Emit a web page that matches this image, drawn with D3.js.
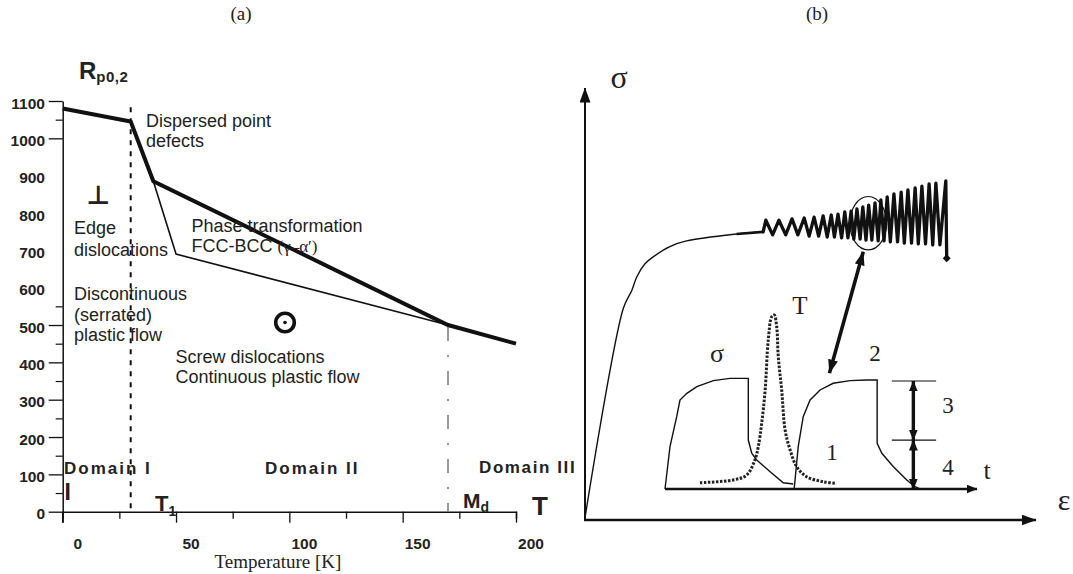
<!DOCTYPE html>
<html><head><meta charset="utf-8">
<script src="https://cdn.jsdelivr.net/npm/d3@7"></script>
<style>body{margin:0;background:#fff}</style>
</head><body>
<svg id="c" width="1073" height="574" xmlns="http://www.w3.org/2000/svg"></svg>
<script>
// ---------- Panel (a) data ----------
const tempTicks = [0, 25, 50, 75, 100, 125, 150, 175, 200];
const tempLabels = [0, 50, 100, 150, 200];
const rpTicksMajor = [0, 100, 200, 300, 400, 500, 1000, 1100];
const rpTicksMinor = [50, 150, 250, 350, 450, 550, 1050];
const rpLabels = [0, 100, 200, 300, 400, 500, 600, 700, 800, 900, 1000, 1100];
const thickT = [0, 30, 40, 170, 200];
const thickR = [1080, 1045, 885, 500, 450];
const thinT = [40, 50, 170];
const thinR = [885, 690, 500];
const T1 = 30, Md = 170;

// ---------- Panel (b) data (arbitrary units) ----------
const mainEps = [0, 8.5, 10.4, 11.5, 13.3, 15.1, 18.8, 22.5, 33.6, 39.5];
const mainSig = [0.5, 49, 53.2, 56.3, 59.3, 60.9, 63.3, 64.6, 66.2, 66.7];
const peakEps = [40.1, 43.0, 45.9, 48.6, 50.8, 52.8, 54.6, 56.1, 57.6, 59.0, 60.3, 61.6, 62.9, 64.3, 65.6, 67.0, 68.5, 70.1, 71.6, 73.2, 74.7, 76.3, 77.8, 80.0];
const peakSig = [69.4, 69.4, 69.7, 69.9, 70.1, 70.4, 70.6, 70.8, 71.3, 71.5, 72.0, 72.5, 72.9, 73.4, 74.1, 74.8, 75.5, 75.9, 76.4, 76.9, 77.3, 77.8, 78.0, 78.5];
const troughEps = [41.6, 44.5, 47.2, 49.7, 51.8, 53.7, 55.3, 56.9, 58.3, 59.6, 61.0, 62.3, 63.6, 65.0, 66.3, 67.7, 69.3, 70.8, 72.4, 73.9, 75.5, 77.1, 78.7];
const troughSig = [66.0, 66.0, 66.0, 65.7, 65.7, 65.5, 65.5, 65.3, 65.3, 65.0, 65.0, 64.8, 64.8, 64.6, 64.6, 64.4, 64.4, 64.1, 64.1, 63.9, 63.9, 63.7, 63.7];
const endEps = 80.2, endSig = 60.6;
const ringEps = 62.8, ringSig = 68.7, ringREps = 4.06, ringRSig = 6.18;
const bigArrowEps = [61.7, 54.2], bigArrowSig = [62.1, 34.0];

// inset (t, value)
const pulse1T = [0, 1.6, 3.75, 4.8, 7.0, 10.2, 15.5, 20.8, 26.7, 26.7, 27.8, 29.4, 33.7, 37.9, 41.1];
const pulse1V = [0, 38.5, 65.7, 80.9, 87.0, 93.0, 98.5, 100.6, 100.6, 44.5, 32.5, 26.4, 15.7, 5.7, 4.5];
const pulse2T = [41.4, 42.7, 44.3, 46.5, 49.7, 53.9, 59.3, 64.6, 68.0, 68.0, 69.5, 73.2, 77.5, 80.1, 81.7];
const pulse2V = [0, 38.5, 65.7, 80.9, 90.0, 96.1, 98.5, 99.1, 99.1, 41.5, 32.5, 20.3, 8.2, 2.1, 0];
const tempCurveT = [11.2, 21.8, 26.2, 28.8, 29.9, 31.0, 32.1, 33.1, 34.2, 35.0, 35.8, 36.3, 37.4, 38.5, 40.1, 42.2, 45.4, 50.7, 55.0];
const tempCurveV = [5.7, 8.2, 12.7, 26.4, 38.5, 60, 90, 135.5, 156.6, 158.2, 147.5, 120.3, 90, 53.6, 35.5, 20.3, 11.2, 6.6, 5.2];
const levelT = [72.7, 86.9], levelV = [98.2, 44.5, 0];
const arrowT = 79.6;

const svg = d3.select('#c');
const SANS = '"Liberation Sans", Arial, sans-serif';
const SERIF = '"Liberation Serif", "Times New Roman", serif';

// markers
const defs = svg.append('defs');
function mk(id, len, wid) {
  defs.append('marker').attr('id', id).attr('markerUnits', 'userSpaceOnUse')
    .attr('viewBox', `0 ${-wid/2} ${len} ${wid}`).attr('refX', len - 0.5).attr('refY', 0)
    .attr('markerWidth', len).attr('markerHeight', wid).attr('orient', 'auto-start-reverse')
    .append('path').attr('d', `M0,${-wid/2}L${len},0L0,${wid/2}Z`).attr('fill', '#111');
}
mk('axArrow', 15, 11);
mk('inArrow', 11, 9);
mk('bigArrow', 14, 10);
mk('dblArrow', 11, 9);

// ================= Panel (a) =================
const x = d3.scaleLinear().domain([0, 200]).range([62.7, 516]);
const y = d3.scaleLinear().domain([0, 1100]).range([511.7, 101]);

const ga = svg.append('g');
const xAxisG = ga.append('g').attr('transform', `translate(0,${y(0)})`)
  .call(d3.axisBottom(x).tickValues(tempTicks).tickFormat('').tickSizeOuter(0).tickSize(7));
xAxisG.selectAll('.tick line').attr('y2', d => d % 50 === 0 ? 11 : 7).attr('stroke', '#111').attr('stroke-width', 1.3);
xAxisG.select('.domain').attr('stroke', '#111').attr('stroke-width', 1.5);
const yAxisG = ga.append('g').attr('transform', `translate(${x(0)},0)`)
  .call(d3.axisLeft(y).tickValues(rpTicksMajor).tickFormat('').tickSize(14).tickSizeOuter(0));
yAxisG.selectAll('.tick line').attr('stroke', '#111').attr('stroke-width', 1.3);
yAxisG.select('.domain').attr('stroke', '#111').attr('stroke-width', 1.5);
ga.append('g').attr('transform', `translate(${x(0)},0)`)
  .call(d3.axisLeft(y).tickValues(rpTicksMinor).tickFormat('').tickSize(7).tickSizeOuter(0))
  .call(g => g.select('.domain').remove())
  .selectAll('.tick line').attr('stroke', '#111').attr('stroke-width', 1.2);
ga.append('line').attr('x1', x(0)).attr('x2', x(0)).attr('y1', y(0)).attr('y2', y(0) + 11).attr('stroke', '#111').attr('stroke-width', 1.5);

ga.selectAll('.ylab').data(rpLabels).join('text')
  .attr('x', 45).attr('y', d => y(d) + 7.5).attr('text-anchor', 'end')
  .attr('font-family', SANS).attr('font-weight', 'bold').attr('font-size', 15.5).attr('fill', '#222')
  .text(d => d);
ga.selectAll('.xlab').data(tempLabels).join('text')
  .attr('x', d => x(d) + 15).attr('y', 548.5).attr('text-anchor', 'middle')
  .attr('font-family', SANS).attr('font-weight', 'bold').attr('font-size', 15.5).attr('fill', '#222')
  .text(d => d);
ga.append('text').attr('x', 278).attr('y', 568).attr('text-anchor', 'middle')
  .attr('font-family', SERIF).attr('font-size', 19).attr('fill', '#222').text('Temperature [K]');

ga.append('line').attr('x1', x(T1)).attr('x2', x(T1)).attr('y1', y(1083)).attr('y2', y(0))
  .attr('stroke', '#111').attr('stroke-width', 2).attr('stroke-dasharray', '5,6');
ga.append('line').attr('x1', x(Md)).attr('x2', x(Md)).attr('y1', y(495)).attr('y2', y(0))
  .attr('stroke', '#777').attr('stroke-width', 1.5).attr('stroke-dasharray', '14,14,2,14');

const lineA = d3.line().x(d => x(d[0])).y(d => y(d[1]));
ga.append('path').attr('d', lineA(d3.zip(thinT, thinR))).attr('fill', 'none').attr('stroke', '#111').attr('stroke-width', 1.6);
ga.append('path').attr('d', lineA(d3.zip(thickT, thickR))).attr('fill', 'none').attr('stroke', '#111').attr('stroke-width', 4).attr('stroke-linejoin', 'miter');

function txt(g, xx, yy, s, opts = {}) {
  return g.append('text').attr('x', xx).attr('y', yy)
    .attr('font-family', opts.family || SANS).attr('font-size', opts.size || 18)
    .attr('font-weight', opts.weight || 'normal').attr('fill', opts.fill || '#222')
    .attr('letter-spacing', opts.ls || 0).attr('text-anchor', opts.anchor || 'start').text(s);
}
txt(svg, 241, 20, '(a)', {family: SERIF, size: 19, anchor: 'middle'});
txt(svg, 817, 20, '(b)', {family: SERIF, size: 19, anchor: 'middle'});

const rp = ga.append('text').attr('x', 79).attr('y', 79).attr('font-family', SANS).attr('font-weight', 'bold').attr('fill', '#222');
rp.append('tspan').attr('font-size', 24).text('R');
rp.append('tspan').attr('font-size', 15).attr('dy', 3).attr('letter-spacing', 0.5).text('p0,2');

txt(ga, 146, 127, 'Dispersed point');
txt(ga, 146, 147, 'defects');
txt(ga, 98.5, 204, '⊥', {family: '"DejaVu Sans", sans-serif', weight: 'bold', size: 26, anchor: 'middle'});
txt(ga, 74, 234, 'Edge');
txt(ga, 74, 256, 'dislocations');
txt(ga, 74, 300, 'Discontinuous');
txt(ga, 74, 320.5, '(serrated)');
txt(ga, 74, 341, 'plastic flow');
txt(ga, 191.5, 231.5, 'Phase transformation');
const fcc = txt(ga, 191.5, 251.5, 'FCC-BCC  ');
fcc.append('tspan').attr('font-family', SERIF).attr('font-size', 17).text('(γ–α′)');
txt(ga, 175.5, 363, 'Screw dislocations');
txt(ga, 175.5, 383, 'Continuous plastic flow');
ga.append('circle').attr('cx', 285).attr('cy', 322.5).attr('r', 9.3).attr('fill', 'none').attr('stroke', '#111').attr('stroke-width', 3.6);
ga.append('circle').attr('cx', 285).attr('cy', 322.5).attr('r', 1.8).attr('fill', '#111');

txt(ga, 64, 474, 'Domain I', {weight: 'bold', size: 17, ls: 2});
txt(ga, 265, 474, 'Domain II', {weight: 'bold', size: 17, ls: 2});
txt(ga, 479, 473, 'Domain III', {weight: 'bold', size: 17, ls: 1.6});
txt(ga, 64.5, 500, 'I', {weight: 'bold', size: 23});
const t1 = ga.append('text').attr('x', 155).attr('y', 510.5).attr('font-family', SANS).attr('font-weight', 'bold').attr('fill', '#222');
t1.append('tspan').attr('font-size', 22).text('T');
t1.append('tspan').attr('font-size', 14).attr('dy', 5).text('1');
const md = ga.append('text').attr('x', 463).attr('y', 507.5).attr('font-family', SANS).attr('font-weight', 'bold').attr('fill', '#222');
md.append('tspan').attr('font-size', 21).text('M');
md.append('tspan').attr('font-size', 14).attr('dy', 4.5).text('d');
txt(ga, 532, 515, 'T', {weight: 'bold', size: 26});

// ================= Panel (b) =================
const xb = d3.scaleLinear().domain([0, 100]).range([585, 1036]);
const yb = d3.scaleLinear().domain([0, 100]).range([520, 88]);
const gb = svg.append('g');
gb.append('line').attr('x1', xb(0)).attr('y1', yb(0)).attr('x2', xb(0)).attr('y2', yb(100))
  .attr('stroke', '#111').attr('stroke-width', 2).attr('marker-end', 'url(#axArrow)');
gb.append('line').attr('x1', xb(0) - 1).attr('y1', yb(0)).attr('x2', xb(100)).attr('y2', yb(0))
  .attr('stroke', '#111').attr('stroke-width', 2.6).attr('marker-end', 'url(#axArrow)');
txt(gb, 619, 88, 'σ', {family: SERIF, size: 32, anchor: 'middle'});
txt(gb, 1064, 510, 'ε', {family: SERIF, size: 30, anchor: 'middle'});

const lineB = d3.line().x(d => xb(d[0])).y(d => yb(d[1]));
gb.append('path').attr('d', lineB.curve(d3.curveCatmullRom.alpha(0.5))(d3.zip(mainEps, mainSig)))
  .attr('fill', 'none').attr('stroke', '#111').attr('stroke-width', 1.4);
lineB.curve(d3.curveLinear);
const serr = [[mainEps[mainEps.length - 1], mainSig[mainSig.length - 1]]];
peakEps.forEach((e, i) => {
  serr.push([e, peakSig[i]]);
  if (i < troughEps.length) serr.push([troughEps[i], troughSig[i]]);
});
serr.push([endEps, endSig]);
gb.append('path').attr('d', lineB([[33.6, 66.2], [39.5, 66.7]])).attr('fill', 'none').attr('stroke', '#111').attr('stroke-width', 2.6);
gb.append('path').attr('d', lineB(serr)).attr('fill', 'none').attr('stroke', '#111').attr('stroke-width', 3.3).attr('stroke-linejoin', 'round').attr('stroke-linecap', 'round');
gb.append('path').attr('d', d3.symbol(d3.symbolDiamond2, 40)()).attr('transform', `translate(${xb(endEps)},${yb(endSig)})`).attr('fill', '#111');
gb.append('ellipse').attr('cx', xb(ringEps)).attr('cy', yb(ringSig))
  .attr('rx', xb(ringREps) - xb(0)).attr('ry', yb(0) - yb(ringRSig))
  .attr('fill', 'none').attr('stroke', '#111').attr('stroke-width', 1.2);
gb.append('line').attr('x1', xb(bigArrowEps[0])).attr('y1', yb(bigArrowSig[0])).attr('x2', xb(bigArrowEps[1])).attr('y2', yb(bigArrowSig[1]))
  .attr('stroke', '#111').attr('stroke-width', 3.6).attr('marker-start', 'url(#bigArrow)').attr('marker-end', 'url(#bigArrow)');

const xi = d3.scaleLinear().domain([0, 100]).range([665, 977]);
const yi = d3.scaleLinear().domain([0, 100]).range([489, 379]);
const lineI = d3.line().x(d => xi(d[0])).y(d => yi(d[1]));
gb.append('line').attr('x1', xi(0)).attr('y1', yi(0)).attr('x2', xi(100)).attr('y2', yi(0))
  .attr('stroke', '#111').attr('stroke-width', 2.4).attr('marker-end', 'url(#inArrow)');
gb.append('path').attr('d', lineI(d3.zip(pulse1T, pulse1V))).attr('fill', 'none').attr('stroke', '#111').attr('stroke-width', 1.4);
gb.append('path').attr('d', lineI(d3.zip(pulse2T, pulse2V))).attr('fill', 'none').attr('stroke', '#111').attr('stroke-width', 1.4);
gb.append('path').attr('d', lineI.curve(d3.curveCatmullRom.alpha(0.5))(d3.zip(tempCurveT, tempCurveV)))
  .attr('fill', 'none').attr('stroke', '#222').attr('stroke-width', 3).attr('stroke-dasharray', '2.5,1.5');
lineI.curve(d3.curveLinear);
levelV.slice(0, 2).forEach(v => {
  gb.append('line').attr('x1', xi(levelT[0])).attr('x2', xi(levelT[1])).attr('y1', yi(v)).attr('y2', yi(v))
    .attr('stroke', '#111').attr('stroke-width', 1.2);
});
for (let i = 0; i < 2; i++) {
  gb.append('line').attr('x1', xi(arrowT)).attr('x2', xi(arrowT)).attr('y1', yi(levelV[i])).attr('y2', yi(levelV[i + 1]))
    .attr('stroke', '#111').attr('stroke-width', 3.4).attr('marker-start', 'url(#dblArrow)').attr('marker-end', 'url(#dblArrow)');
}
txt(gb, 717, 362, 'σ', {family: SERIF, size: 26, anchor: 'middle'});
txt(gb, 800, 314, 'T', {family: SERIF, size: 25, anchor: 'middle'});
txt(gb, 875, 361, '2', {family: SERIF, size: 23, anchor: 'middle'});
txt(gb, 948, 413, '3', {family: SERIF, size: 23, anchor: 'middle'});
txt(gb, 832, 460, '1', {family: SERIF, size: 23, anchor: 'middle'});
txt(gb, 948, 475, '4', {family: SERIF, size: 23, anchor: 'middle'});
txt(gb, 987, 479, 't', {family: SERIF, size: 26, anchor: 'middle'});
</script>
</body></html>
